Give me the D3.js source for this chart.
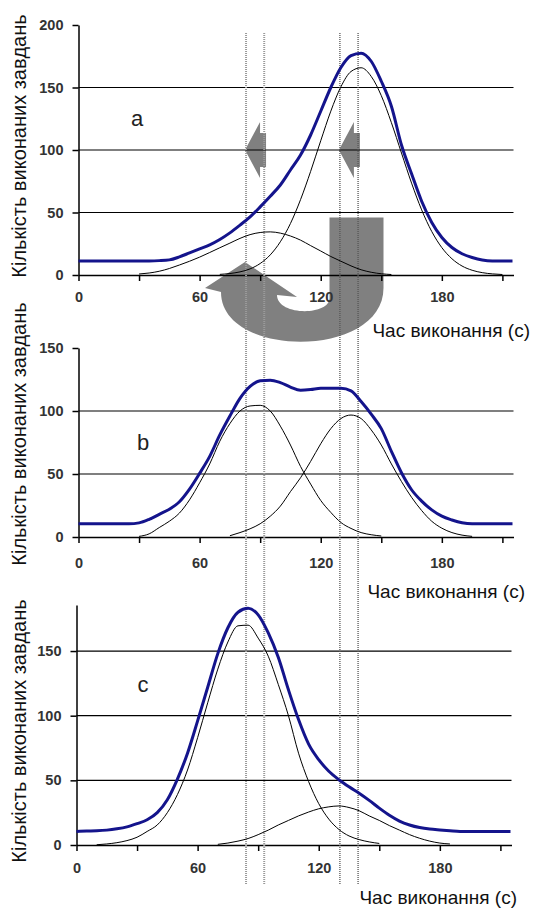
<!DOCTYPE html>
<html>
<head>
<meta charset="utf-8">
<script src="https://cdn.jsdelivr.net/npm/d3@7"></script>
<style>
  body { margin: 0; background: #fff; }
  svg { display: block; font-family: "Liberation Sans", Arial, sans-serif; }
  .tick text { font-weight: bold; font-size: 14.5px; fill: #333; }
</style>
</head>
<body>
<svg id="chart" width="533" height="911"></svg>
<script>
// time grid (s)
const times = [0,5,10,15,20,25,30,35,40,45,50,55,60,65,70,75,80,85,90,95,100,105,
  110,115,120,125,130,135,140,145,150,155,160,165,170,175,180,185,190,195,200,205,210,215];

// panel a
const totalA = [11.3,11.3,11.3,11.3,11.3,11.3,11.3,11.3,11.5,12.1,14.5,17.7,20.9,24.1,28.4,33.7,39.9,46.5,
  54.5,63,72,84,96,112,131,150,166,175.5,177.5,171,155,135,104,81,59,42,30,22,17,14,12,11.3,11.3,11.3];
const lowA = [null,null,null,null,null,null,0.8,1.6,3,5.2,8,11,14.3,18,21.8,25.5,29.3,32.3,34,34.5,33.5,
  31.2,27.9,23.5,19.2,14.8,11,7.3,4.2,2.2,1,0.4,null,null,null,null,null,null,null,null,null,null,null,null];
const highA = [null,null,null,null,null,null,null,null,null,null,null,null,null,null,0.5,1.2,2.5,4.9,9.2,
  16.1,26.6,41.2,60.3,82.9,107.4,131.1,150.6,162.8,165.8,158.9,143.5,121.9,97.6,73.5,52.1,34.8,21.9,13,
  7.2,3.8,1.9,0.9,0.4,null];

// panel b
const totalB = [10.5,10.5,10.5,10.5,10.5,10.5,11.2,14,18,22,28,38,50.5,64,81,96,110,119.5,124,124.5,122.5,
  119,116.5,117,118,118,118,116,107.5,97.5,86,68,51,37.5,28.5,21.5,16.5,13.5,11.3,10.5,10.5,10.5,10.5,10.5];
const leftB = [null,null,null,null,null,null,0.5,2.5,7.5,12.5,19,29.5,43,58,76,90,100,104,104.5,100,88,73,
  56,42,29,19.5,11.5,6.8,3.5,1.8,0.8,null,null,null,null,null,null,null,null,null,null,null,null,null];
const rightB = [null,null,null,null,null,null,null,null,null,null,null,null,null,null,null,1,3.5,6.5,10.5,
  16.5,24.5,36,47,60,74,86,94,96.8,94,85,73,58,44,31.5,21,12.5,7,3.5,1.5,0.5,null,null,null,null];

// panel c
const totalC = [10.5,10.8,11,11.5,12.5,14,16.5,19.5,25,35,51,71,96,122,148,168,180,183,178,164,145,120,97,
  78,66,57,50.5,45,40,34.5,28.5,23,18.5,15.5,13.5,12.3,11.6,11,10.5,10.5,10.5,10.5,10.5,10.5];
const leftC = [null,null,0.2,0.8,1.8,3.4,6,10.5,15.5,25,39,58,83,110,136,157,169.5,170,160,146,124,100,71,
  49,32,20,12,7,4.2,2.4,1.2,null,null,null,null,null,null,null,null,null,null,null,null,null];
const smallC = [null,null,null,null,null,null,null,null,null,null,null,null,null,null,0.5,1.5,3,5,8,11.5,
  15.5,19,22.5,25.5,28,29.5,30.2,29,26.5,22.5,19,15,11.5,8,5.2,3,1.5,0.8,null,null,null,null,null,null];

// axes / annotations
const xTicks = [0,30,60,90,120,150,180,210];
const yTicksA = [0,50,100,150,200];
const yTicksB = [0,50,100,150];
const yTicksC = [0,50,100,150];
const gridA = [50,100,150];
const gridB = [50,100];
const gridC = [50,100,150];
const markerTimes = [83, 92, 129.5, 138.5];
const panelLetters = ["a", "b", "c"];
const xTitle = "Час виконання (с)";
const yTitle = "Кількість виконаних завдань";

const svg = d3.select("#chart");

const panels = [
  { total: totalA, parts: [lowA, highA], yMax: 200, top: 25, bottom: 275, left: 78.5,
    yTicks: yTicksA, grid: gridA, pad: 10.5, titleX: 530, titleY: 337, labelY: 146, letterX: 137, letterY: 126 },
  { total: totalB, parts: [leftB, rightB], yMax: 150, top: 348, bottom: 537, left: 78.5,
    yTicks: yTicksB, grid: gridB, pad: 15, titleX: 525, titleY: 597.5, labelY: 434, letterX: 143, letterY: 450 },
  { total: totalC, parts: [leftC, smallC], yMax: 185.6, top: 605, bottom: 845, left: 76.5,
    yTicks: yTicksC, grid: gridC, pad: 12, titleX: 517, titleY: 904, labelY: 731, letterX: 143, letterY: 692 }
];

panels.forEach(p => {
  p.x = d3.scaleLinear().domain([0, 215.5]).range([p.left, p.left + 435]);
  p.y = d3.scaleLinear().domain([0, p.yMax]).range([p.bottom, p.top]);
});

const xA = panels[0].x, yA = panels[0].y;

// gray arrows (drawn first, everything else goes over them)
const arrows = svg.append("g").attr("fill", "#808080");
[markerTimes[0], markerTimes[2]].forEach(t => {
  const tx = xA(t) - 1, ty = yA(100);
  arrows.append("path")
    .attr("d", `M${tx},${ty} L${tx + 15},${ty - 28} L${tx + 15},${ty - 17} L${tx + 21},${ty - 17}
      L${tx + 21},${ty + 17} L${tx + 15},${ty + 17} L${tx + 15},${ty + 28} Z`);
});

// big U-turn arrow
arrows.append("path")
  .attr("d", "M245,262 L297,297 L277,295 C277,316 329.5,316 329.5,298 L329.5,217.5 L383.5,217.5 " +
    "L383.5,288 C383.5,359 221,359 221,292 L205,288 Z");

panels.forEach((p, i) => {
  const g = svg.append("g");

  // grid
  g.selectAll(".grid").data(p.grid).enter().append("line")
    .attr("x1", p.x(0)).attr("x2", p.x(215.5))
    .attr("y1", d => p.y(d)).attr("y2", d => p.y(d))
    .attr("stroke", "#000").attr("stroke-width", 1.2);

  // axes
  const xAxis = d3.axisBottom(p.x).tickValues(xTicks).tickSize(6).tickSizeOuter(0)
    .tickPadding(p.pad).tickFormat(d => d % 60 === 0 ? d : "");
  g.append("g").attr("transform", `translate(0,${p.bottom})`).call(xAxis)
    .call(a => a.selectAll("path,line").attr("stroke", "#000").attr("stroke-width", 1.5));

  const yAxis = d3.axisLeft(p.y).tickValues(p.yTicks).tickSize(6).tickSizeOuter(0).tickPadding(9);
  g.append("g").attr("transform", `translate(${p.left},0)`).call(yAxis)
    .call(a => a.selectAll("path,line").attr("stroke", "#000").attr("stroke-width", 1.5));

  g.selectAll(".tick text").attr("font-family", null).attr("font-size", null);

  // titles
  g.append("text").attr("x", p.titleX).attr("y", p.titleY)
    .attr("text-anchor", "end").attr("font-size", 19).attr("fill", "#111").text(xTitle);
  g.append("text").attr("transform", `translate(26,${p.labelY}) rotate(-90)`)
    .attr("text-anchor", "middle").attr("font-size", 20).attr("fill", "#111").text(yTitle);
  g.append("text").attr("x", p.letterX).attr("y", p.letterY)
    .attr("text-anchor", "middle").attr("font-size", 22).attr("fill", "#222").text(panelLetters[i]);
});

// dotted marker lines through all panels
svg.append("g").selectAll("line").data(markerTimes).enter().append("line")
  .attr("x1", d => xA(d)).attr("x2", d => xA(d))
  .attr("y1", 33).attr("y2", 885)
  .attr("stroke", (d, i) => i < 2 ? "#9a9a9a" : "#555")
  .attr("stroke-width", (d, i) => i < 2 ? 2 : 1.3)
  .attr("stroke-dasharray", "1,1");

// curves
panels.forEach(p => {
  const line = d3.line()
    .defined(d => d[1] != null)
    .x(d => p.x(d[0])).y(d => p.y(d[1]))
    .curve(d3.curveMonotoneX);

  p.parts.forEach(part => {
    svg.append("path")
      .attr("d", line(times.map((t, k) => [t, part[k]])))
      .attr("fill", "none").attr("stroke", "#000").attr("stroke-width", 1);
  });

  svg.append("path")
    .attr("d", line(times.map((t, k) => [t, p.total[k]])))
    .attr("fill", "none").attr("stroke", "#14148c").attr("stroke-width", 3);
});
</script>
</body>
</html>
